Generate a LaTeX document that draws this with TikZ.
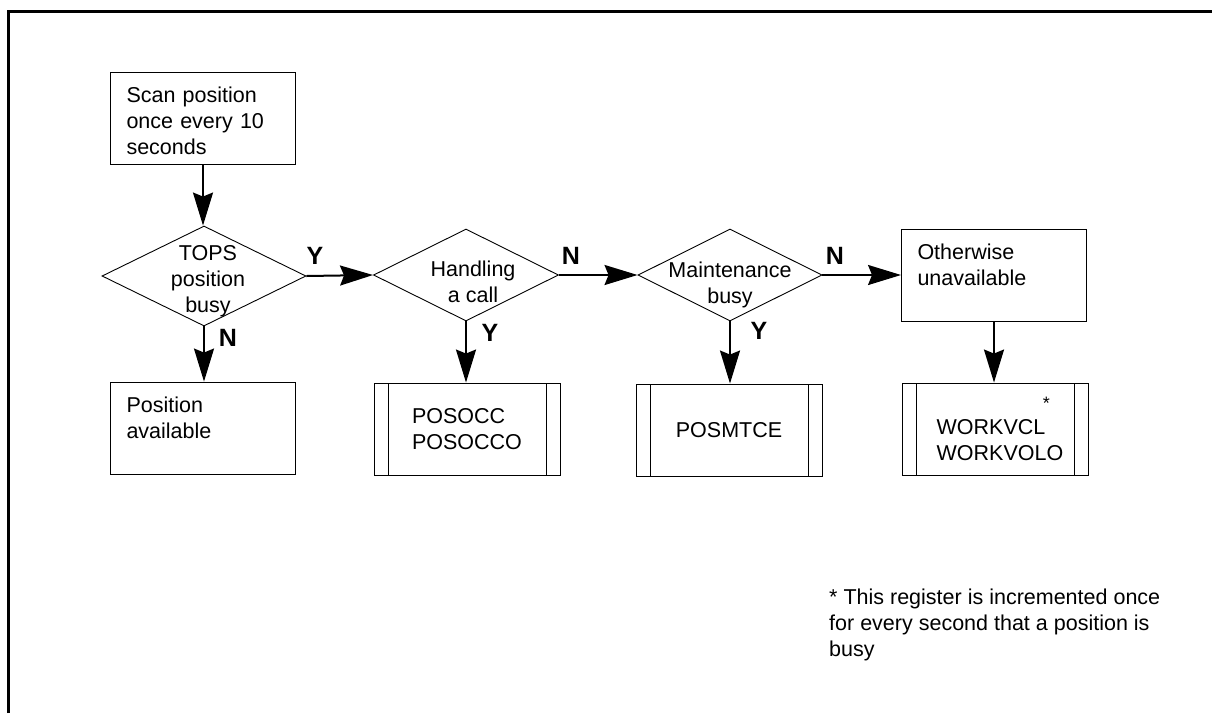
\documentclass[tikz,border=0pt]{standalone}
\usepackage{fontspec}
\setmainfont{Liberation Sans}
\usetikzlibrary{arrows.meta,shapes.geometric}
\begin{document}
\begin{tikzpicture}[x=1pt,y=-1pt,
  every node/.style={font=\fontsize{21.5}{26}\selectfont},
  tbox/.style={draw, line width=0.9pt, rectangle, inner xsep=16pt, inner ysep=0pt,
    text width=153pt, align=left, text height=30pt, text depth=62pt},
  sbox/.style={draw, line width=0.9pt, rectangle, minimum width=186pt, minimum height=92pt,
    align=left, inner sep=0pt,
    path picture={\draw[line width=0.9pt]
      ([xshift=14pt]path picture bounding box.north west) -- ([xshift=14pt]path picture bounding box.south west)
      ([xshift=-14pt]path picture bounding box.north east) -- ([xshift=-14pt]path picture bounding box.south east);}},
  dec/.style={draw, line width=0.9pt, diamond, inner sep=0pt},
  yn/.style={font=\fontsize{25}{26}\selectfont\bfseries, inner sep=0pt},
  flow/.style={line width=2pt, -{Stealth[length=33pt,width=20pt,inset=4pt]}},
]
\useasboundingbox (0,0) rectangle (1212,713);
\draw[line width=3.3pt] (8.3,713) -- (8.3,11.7) -- (1212,11.7);

% boxes
\node[tbox] (scan) at (203,118) {Scan position\\once every 10\\seconds};
\node[tbox] (avail) at (203,428) {Position\\available};
\node[tbox] (oth) at (994,275) {Otherwise\\unavailable};

% decisions
\node[dec, minimum width=204pt, minimum height=100pt,
  label={[align=center, xshift=4pt, yshift=-5pt]center:TOPS\\position\\busy}] (d1) at (204,276) {};
\node[dec, minimum width=185pt, minimum height=92pt,
  label={[align=center, xshift=7pt, yshift=-7pt]center:Handling\\a call}] (d2) at (466,275) {};
\node[dec, minimum width=184pt, minimum height=92pt,
  label={[align=center, yshift=-10pt]center:Maintenance\\busy}] (d3) at (730,275) {};

% subprocess boxes
\node[sbox] (posocc) at (467,429) {POSOCC\\POSOCCO};
\node[sbox] (posmtce) at (729,430) {POSMTCE};
\node[sbox] (workv) at (995,429) {\hspace*{10pt}WORKVCL\makebox[0pt][c]{\hspace*{2pt}\raisebox{25pt}{\fontsize{18}{18}\selectfont *}}\\\hspace*{10pt}WORKVOLO};

% Y / N labels
\node[yn] (y1) at (315,256) {Y};
\node[yn] (n1) at (228,338) {N};
\node[yn] (n2) at (571,256) {N};
\node[yn] (y2) at (490,333) {Y};
\node[yn] (n3) at (835,256) {N};
\node[yn] (y3) at (759,331) {Y};

% footnote
\node[anchor=north west, inner sep=0pt, align=left] (note) at (829,589)
  {* This register is incremented once\\for every second that a position is\\busy};

% connectors
\draw[flow] (scan.south) -- (scan.south |- d1.north);
\draw[flow] (d1.east) -- (d2.west);
\draw[flow] (d2.east) -- (d3.west);
\draw[flow] (d3.east) -- (oth.west);
\draw[flow] (d1.south) -- (d1.south |- avail.north);
\draw[flow] (d2.south) -- (d2.south |- posocc.north);
\draw[flow] (d3.south) -- (d3.south |- posmtce.north);
\draw[flow] (oth.south) -- (oth.south |- workv.north);
\end{tikzpicture}
\end{document}
